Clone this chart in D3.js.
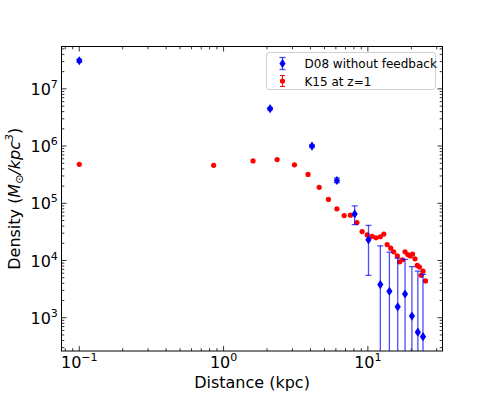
<!DOCTYPE html>
<html>
<head>
<meta charset="utf-8">
<script src="https://cdn.jsdelivr.net/npm/d3@7"></script>
<style>
  body { margin: 0; background: #fff; }
  svg { font-family: "DejaVu Sans", sans-serif; }
</style>
</head>
<body>
<div id="chart"></div>
<script>
// D08 without feedback
const d08X = [0.1, 2.1, 4.1, 6.1, 8.1, 10.1, 12.2, 14.1, 16.1, 18.1, 20.2, 22.2, 24.1];
const d08Y = [3.1e7, 4.5e6, 1.0e6, 2.5e5, 6.5e4, 2.3e4, 3.8e3, 2.9e3, 1.55e3, 2.6e3, 1.07e3, 560, 466];
const d08Hi = [3.3e7, 4.7e6, 1.05e6, 2.75e5, 9.0e4, 4.1e4, 1.8e4, 1.4e4, 1.1e4, 1.05e4, 7.8e3, 6.5e3, 5.7e3];
const d08Lo = [2.9e7, 4.3e6, 9.5e5, 2.3e5, 4.25e4, 5.5e3, 1, 1, 1, 1, 1, 1, 1];

// K15 at z=1
const k15X = [0.1, 0.853, 1.6, 2.35, 3.1, 3.85, 4.6, 5.33, 6.1, 6.85, 7.57, 8.4, 9.12, 9.9, 10.7, 11.4,
  12.2, 12.9, 13.6, 14.4, 15.1, 16.0, 16.6, 17.4, 18.1, 18.9, 19.7, 20.4, 21.2, 22.0, 22.8, 23.4, 24.1, 25.1];
const k15Y = [4.8e5, 4.6e5, 5.5e5, 5.8e5, 4.7e5, 3.2e5, 1.9e5, 1.17e5, 8.0e4, 6.1e4, 6.2e4, 4.6e4, 3.2e4, 2.8e4, 2.65e4, 2.5e4,
  2.6e4, 2.9e4, 1.9e4, 1.64e4, 1.42e4, 1.2e4, 9.5e3, 1.03e4, 1.42e4, 1.27e4, 1.2e4, 1.3e4, 1.07e4, 8.2e3, 7.7e3, 5.5e3, 6.5e3, 4.4e3];

const xDomain = [0.0753, 32.9];
const yDomain = [262, 5.5e7];

const W = 491, H = 395;
const margin = { top: 46.5, right: 48.5, bottom: 44, left: 61.5 };
const width = W - margin.left - margin.right;
const height = H - margin.top - margin.bottom;

const svg = d3.select('#chart').append('svg')
  .attr('width', W)
  .attr('height', H);

const x = d3.scaleLog().domain(xDomain).range([0, width]);
const y = d3.scaleLog().domain(yDomain).range([height, 0]);

const g = svg.append('g')
  .attr('transform', 'translate(' + margin.left + ',' + margin.top + ')');

svg.append('defs').append('clipPath').attr('id', 'clip')
  .append('rect').attr('width', width).attr('height', height);

// ticks (inward, all four sides)
const decadeTicks = function (dom) {
  const maj = [], min = [];
  const lo = Math.floor(Math.log10(dom[0])), hi = Math.ceil(Math.log10(dom[1]));
  for (let e = lo; e <= hi; e++) {
    for (let m = 1; m < 10; m++) {
      const v = m * Math.pow(10, e);
      if (v < dom[0] || v > dom[1]) continue;
      if (m === 1) maj.push(e); else min.push(v);
    }
  }
  return { maj: maj, min: min };
};
const xt = decadeTicks(xDomain);
const yt = decadeTicks(yDomain);
const majLen = 5, minLen = 2.8;

const ticks = g.append('g').attr('stroke', '#000').attr('stroke-width', 0.8);
xt.maj.forEach(function (e) {
  const px = x(Math.pow(10, e));
  ticks.append('line').attr('x1', px).attr('x2', px).attr('y1', height).attr('y2', height - majLen);
  ticks.append('line').attr('x1', px).attr('x2', px).attr('y1', 0).attr('y2', majLen);
});
xt.min.forEach(function (v) {
  const px = x(v);
  ticks.append('line').attr('x1', px).attr('x2', px).attr('y1', height).attr('y2', height - minLen);
  ticks.append('line').attr('x1', px).attr('x2', px).attr('y1', 0).attr('y2', minLen);
});
yt.maj.forEach(function (e) {
  const py = y(Math.pow(10, e));
  ticks.append('line').attr('y1', py).attr('y2', py).attr('x1', 0).attr('x2', majLen);
  ticks.append('line').attr('y1', py).attr('y2', py).attr('x1', width).attr('x2', width - majLen);
});
yt.min.forEach(function (v) {
  const py = y(v);
  ticks.append('line').attr('y1', py).attr('y2', py).attr('x1', 0).attr('x2', minLen);
  ticks.append('line').attr('y1', py).attr('y2', py).attr('x1', width).attr('x2', width - minLen);
});

// tick labels
const fs = 16;
const powLabel = function (sel, e) {
  sel.append('tspan').text('10');
  sel.append('tspan').attr('dy', -7).attr('font-size', 11).text(e < 0 ? '\u2212' + (-e) : e);
};
xt.maj.forEach(function (e) {
  const t = g.append('text')
    .attr('x', x(Math.pow(10, e)))
    .attr('y', height + 16.5)
    .attr('text-anchor', 'middle')
    .attr('font-size', fs);
  powLabel(t, e);
});
yt.maj.forEach(function (e) {
  const t = g.append('text')
    .attr('x', -31)
    .attr('y', y(Math.pow(10, e)) + 6)
    .attr('font-size', fs);
  powLabel(t, e);
});

// axis labels
g.append('text')
  .attr('x', width / 2)
  .attr('y', height + 37)
  .attr('text-anchor', 'middle')
  .attr('font-size', 16)
  .text('Distance (kpc)');

const yl = svg.append('text')
  .attr('transform', 'translate(' + 20 + ',' + (margin.top + height / 2) + ') rotate(-90)')
  .attr('text-anchor', 'middle')
  .attr('font-size', 16);
yl.append('tspan').text('Density (');
yl.append('tspan').attr('font-style', 'italic').text('M');
yl.append('tspan').attr('dy', 3).attr('font-size', 11).text('\u2299');
yl.append('tspan').attr('dy', -3).attr('font-style', 'italic').text('/kpc');
yl.append('tspan').attr('dy', -7).attr('font-size', 11).attr('font-style', 'italic').text('3');
yl.append('tspan').attr('dy', 7).text(')');

// data
const plot = g.append('g').attr('clip-path', 'url(#clip)');

// K15 points
plot.append('g').selectAll('circle')
  .data(k15X)
  .enter().append('circle')
  .attr('cx', function (d) { return x(d); })
  .attr('cy', function (d, i) { return y(k15Y[i]); })
  .attr('r', 2.6)
  .attr('fill', '#ff0000');

// D08 error bars
const ebCol = 'rgba(0,0,255,0.7)';
const eb = plot.append('g').attr('stroke', ebCol).attr('stroke-width', 1.3);
d08X.forEach(function (d, i) {
  const px = x(d);
  const lo = Math.min(y(d08Lo[i]), height + 10);
  eb.append('line').attr('x1', px).attr('x2', px).attr('y1', y(d08Hi[i])).attr('y2', lo);
  eb.append('line').attr('x1', px - 3).attr('x2', px + 3).attr('y1', y(d08Hi[i])).attr('y2', y(d08Hi[i]));
  eb.append('line').attr('x1', px - 3).attr('x2', px + 3).attr('y1', lo).attr('y2', lo);
});

// D08 diamonds
const diamond = 'M0,-4.6L3.1,0L0,4.6L-3.1,0Z';
plot.append('g').selectAll('path')
  .data(d08X)
  .enter().append('path')
  .attr('transform', function (d, i) { return 'translate(' + x(d) + ',' + y(d08Y[i]) + ')'; })
  .attr('d', diamond)
  .attr('fill', '#0000ff');

// frame
g.append('rect')
  .attr('width', width)
  .attr('height', height)
  .attr('fill', 'none')
  .attr('stroke', '#000')
  .attr('stroke-width', 1);

// legend
const lg = g.append('g').attr('transform', 'translate(' + (width - 176) + ',' + 6 + ')');
lg.append('rect')
  .attr('width', 169)
  .attr('height', 37)
  .attr('rx', 2.5)
  .attr('fill', 'rgba(255,255,255,0.8)')
  .attr('stroke', '#d0d0d0')
  .attr('stroke-width', 1);
const lx = 16;
lg.append('line').attr('x1', lx).attr('x2', lx).attr('y1', 5).attr('y2', 17).attr('stroke', ebCol).attr('stroke-width', 1.3);
lg.append('line').attr('x1', lx - 3).attr('x2', lx + 3).attr('y1', 5).attr('y2', 5).attr('stroke', ebCol).attr('stroke-width', 1.3);
lg.append('line').attr('x1', lx - 3).attr('x2', lx + 3).attr('y1', 17).attr('y2', 17).attr('stroke', ebCol).attr('stroke-width', 1.3);
lg.append('path').attr('transform', 'translate(' + lx + ',11)').attr('d', diamond).attr('fill', '#0000ff');
lg.append('text').attr('x', 38).attr('y', 15.5).attr('font-size', 12).text('D08 without feedback');
lg.append('line').attr('x1', lx).attr('x2', lx).attr('y1', 23).attr('y2', 34).attr('stroke', '#ff0000').attr('stroke-width', 1);
lg.append('line').attr('x1', lx - 2.5).attr('x2', lx + 2.5).attr('y1', 23).attr('y2', 23).attr('stroke', '#ff0000').attr('stroke-width', 1);
lg.append('line').attr('x1', lx - 2.5).attr('x2', lx + 2.5).attr('y1', 34).attr('y2', 34).attr('stroke', '#ff0000').attr('stroke-width', 1);
lg.append('circle').attr('cx', lx).attr('cy', 28.5).attr('r', 2.6).attr('fill', '#ff0000');
lg.append('text').attr('x', 38).attr('y', 33).attr('font-size', 12).text('K15 at z=1');
</script>
</body>
</html>
